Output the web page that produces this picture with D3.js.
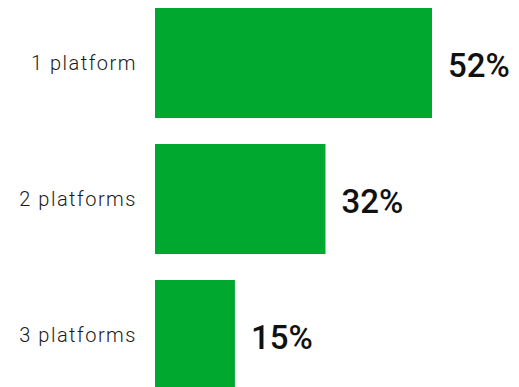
<!DOCTYPE html>
<html>
<head>
<meta charset="utf-8">
<script src="https://cdn.jsdelivr.net/npm/d3@7/dist/d3.min.js"></script>
<style>
  html, body { margin: 0; padding: 0; background: #fff; }
  svg { display: block; }
</style>
</head>
<body>
<svg id="chart" width="519" height="387"></svg>
<script>
// Share of respondents by number of platforms used
const categories = ["1 platform", "2 platforms", "3 platforms"];
const values = [52, 32, 15];
const valueLabels = ["52%", "32%", "15%"];

const svg = d3.select("#chart");

const x = d3.scaleLinear()
  .domain([0, 100])
  .range([155, 687.7]);

const y = d3.scaleBand()
  .domain(categories)
  .range([8, 390])
  .paddingInner(26 / 136)
  .paddingOuter(0);

const data = categories.map((c, i) => ({ cat: c, value: values[i], label: valueLabels[i] }));

// bars
svg.selectAll("rect.bar")
  .data(data)
  .join("rect")
  .attr("class", "bar")
  .attr("x", x(0))
  .attr("y", d => y(d.cat))
  .attr("width", d => x(d.value) - x(0))
  .attr("height", y.bandwidth())
  .attr("fill", "#00a830");

// category labels on the left
svg.selectAll("text.cat")
  .data(data)
  .join("text")
  .attr("class", "cat")
  .attr("x", 137)
  .attr("y", d => y(d.cat) + y.bandwidth() / 2 + 7)
  .attr("text-anchor", "end")
  .attr("font-family", "Roboto, Lato, sans-serif")
  .attr("font-weight", 300)
  .attr("font-size", 20)
  .attr("letter-spacing", "1.5px")
  .attr("fill", "#1a1a1a")
  .text(d => d.cat);

// value labels at the bar ends
svg.selectAll("text.val")
  .data(data)
  .join("text")
  .attr("class", "val")
  .attr("x", d => x(d.value) + 16)
  .attr("y", d => y(d.cat) + y.bandwidth() / 2 + 13.5)
  .attr("text-anchor", "start")
  .attr("font-family", "Roboto, Lato, sans-serif")
  .attr("font-weight", 500)
  .attr("font-size", 33)
  .attr("fill", "#111")
  .text(d => d.label);
</script>
</body>
</html>
